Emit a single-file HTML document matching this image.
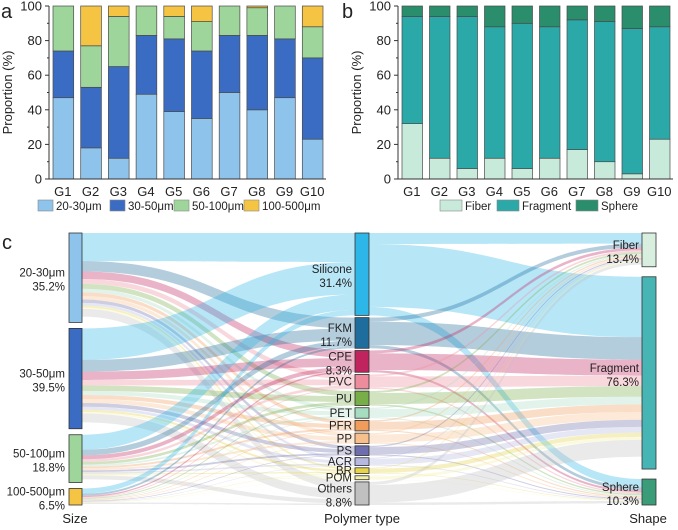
<!DOCTYPE html>
<html><head><meta charset="utf-8"><style>
body{margin:0;background:#fff;font-family:"Liberation Sans",Arial,sans-serif;}
svg{display:block}
text{font-family:"Liberation Sans",Arial,sans-serif;fill:#222}
</style></head><body>
<svg id="s" width="678" height="530" viewBox="0 0 678 530"></svg>
<script>
const groups=["G1","G2","G3","G4","G5","G6","G7","G8","G9","G10"];
const sizeNames=["20-30μm","30-50μm","50-100μm","100-500μm"];
const s2030=[47,18,12,49,39,35,50,40,47,23];
const s3050=[27,35,53,34,42,39,33,43,34,47];
const s50100=[26,24,29,17,13,17,17,16,19,18];
const s100500=[0,23,6,0,6,9,0,1,0,12];
const shapeNames=["Fiber","Fragment","Sphere"];
const fiber=[32,12,6,12,6,12,17,10,3,23];
const fragment=[62,82,88,76,84,76,75,81,84,65];
const sphere=[6,6,6,12,10,12,8,9,13,12];
const yTicks=[0,20,40,60,80,100];
const sizePct=[35.2,39.5,18.8,6.5];
const polyNames=["Silicone","FKM","CPE","PVC","PU","PET","PFR","PP","PS","ACR","BR","POM","Others"];
const polyPct=[31.4,11.7,8.3,5.5,5.5,4.0,4.0,4.0,3.7,3.0,2.2,1.5,8.8];
const polyLabelPct=["31.4%","11.7%","8.3%","","","","","","","","","","8.8%"];
const shapePct=[13.4,76.3,10.3];

const NS="http://www.w3.org/2000/svg";
const svg=document.getElementById('s');
function el(tag,attrs,parent){const e=document.createElementNS(NS,tag);for(const k in attrs)e.setAttribute(k,attrs[k]);(parent||svg).appendChild(e);return e;}
function txt(x,y,t,attrs,parent){const e=el('text',Object.assign({x:x,y:y},attrs||{}),parent);e.textContent=t;return e;}

function barChart(cfg){
  const g=el('g',{});
  
  
  const x0=cfg.x0,x1=cfg.x1,yT=6,yB=179;
  const yS=v=>yB-(v/100)*(yB-yT);
  const step=(x1-x0)/groups.length;
  groups.forEach((gn,i)=>{
    let acc=0;
    cfg.series.forEach((ser,si)=>{
      const v=ser[i]; if(v<=0){return;}
      const r=el('rect',{x:x0+i*step+4,y:yS(acc+v),width:step-7,height:yS(acc)-yS(acc+v),fill:cfg.colors[si],stroke:'#4a4a4a','stroke-width':0.7},g);
      
      
      acc+=v;
    });
    const t=txt(x0+i*step+step/2,196,gn,{'font-size':13,'text-anchor':'middle'},g);
    
    
  });
  el('path',{d:`M${x0} ${yT}V${yB}H${x1}`,stroke:'#333','stroke-width':1,fill:'none'},g);
  yTicks.forEach(v=>{
    el('line',{x1:x0-4,x2:x0,y1:yS(v),y2:yS(v),stroke:'#333'},g);
    if(v<100)el('line',{x1:x0-2,x2:x0,y1:yS(v+10),y2:yS(v+10),stroke:'#333'},g);
    const t=txt(x0-7,yS(v)+4.5,String(v),{'font-size':13,'text-anchor':'end'},g);
    
    
  });
  const yt=txt(0,0,'Proportion (%)',{'font-size':13,'text-anchor':'middle',transform:`translate(${cfg.ytx},${(yT+yB)/2}) rotate(-90)`},g);
  
  
  const pl=txt(cfg.lx,18,cfg.letter,{'font-size':20},g);
  
  
  cfg.legend.forEach((lg,i)=>{
    const r=el('rect',{x:lg[0],y:200,width:cfg.sw,height:11,fill:cfg.colors[i],stroke:'#888','stroke-width':0.6},g);
    
    
    const t=txt(lg[0]+cfg.sw+3,210,lg[1],{'font-size':11.5},g);
    
    
  });
}
barChart({name:'chart-a',letter:'a',lx:1,x0:49,x1:326,ytx:12,sw:15,series:[s2030,s3050,s50100,s100500],keys:['20-30','30-50','50-100','100-500'],
  colors:['#8ec3ec','#3b6cc3','#9ed59b','#f5c443'],legend:[[38,'20-30μm'],[110,'30-50μm'],[174,'50-100μm'],[244,'100-500μm']]});
barChart({name:'chart-b',letter:'b',lx:342,x0:398,x1:673,ytx:361,sw:22,series:[fiber,fragment,sphere],keys:['fiber','fragment','sphere'],
  colors:['#c8eadb','#2aa9a8','#2a8e6d'],legend:[[440,'Fiber'],[497,'Fragment'],[576,'Sphere']]});

// Sankey
const sizeCols=['#8ec3ec','#3b6cc3','#9ed59b','#f5c443'];
const polyCols=['#2cb7e8','#1f6d9c','#c0235e','#ec8c9c','#78ae48','#a6dcc0','#f09c5a','#f6bf8c','#6e6eae','#b6b8e0','#e6d44a','#f2f0a8','#c0c0c0'];
const shapeCols=['#d8efe0','#48b5b5','#3a9c78'];
const sk=el('g',{});


const skTop=233,skBot=505;
function layout(pcts,gap){const tot=pcts.reduce((a,b)=>a+b,0);const avail=skBot-skTop-gap*(pcts.length-1);let y=skTop;return pcts.map(p=>{const h=p/tot*avail;const r=[y,h];y+=h+gap;return r;});}
const L=layout(sizePct,6),M=layout(polyPct,2.2),R=layout(shapePct,10);
const xl=82,xm1=355,xm2=369,xr=642;
const flowG=el('g',{},sk);
function flow(xa,ya,ha,xb,yb,hb,col,name){
  const cx=(xa+xb)/2;
  const p=el('path',{d:`M${xa} ${ya}C${cx} ${ya} ${cx} ${yb} ${xb} ${yb}L${xb} ${yb+hb}C${cx} ${yb+hb} ${cx} ${ya+ha} ${xa} ${ya+ha}Z`,fill:col,'fill-opacity':0.34},flowG);
  
  
}
const mIn=M.map(m=>m[0]);
L.forEach((l,i)=>{let y=l[0];
  M.forEach((m,j)=>{const fr=sizePct[i]/100;const hl=l[1]*polyPct[j]/100;const hm=m[1]*fr;
    flow(xl,y,hl,xm1,mIn[j],hm,polyCols[j],'flow-size-polymer');y+=hl;mIn[j]+=hm;});});
const rIn=R.map(r=>r[0]);
M.forEach((m,j)=>{let y=m[0];
  R.forEach((r,k)=>{const hm=m[1]*shapePct[k]/100;const hr=r[1]*polyPct[j]/100;
    flow(xm2,y,hm,xr,rIn[k],hr,polyCols[j],'flow-polymer-shape');y+=hm;rIn[k]+=hr;});});
function node(x,w,pos,col,name){const r=el('rect',{x:x,y:pos[0],width:w,height:pos[1],fill:col,stroke:'#333','stroke-width':0.8},sk);}
function lbl(x,y,t,anchor){const e=txt(x,y,t,{'font-size':11.5,'text-anchor':anchor},sk);}
L.forEach((l,i)=>{node(69,13,l,sizeCols[i],'size-node-'+i);const c=l[0]+l[1]/2;lbl(65,c-1,sizeNames[i],'end');lbl(65,c+13,sizePct[i]+'%','end');});
M.forEach((m,j)=>{node(xm1,14,m,polyCols[j],'polymer-node-'+polyNames[j].toLowerCase());const c=m[0]+m[1]/2;
  if(polyLabelPct[j]){lbl(352,c-1,polyNames[j],'end');lbl(352,c+13,polyLabelPct[j],'end');}else lbl(352,c+4,polyNames[j],'end');});
R.forEach((r,k)=>{node(xr,14,r,shapeCols[k],'shape-node-'+k);const c=r[0]+r[1]/2;lbl(639,c-1,shapeNames[k],'end');lbl(639,c+13,shapePct[k]+'%','end');});
const cl=txt(2,249,'c',{'font-size':20},sk);
[[75,'Size','size-axis-label'],[362,'Polymer type','polymer-axis-label'],[648,'Shape','shape-axis-label']].forEach(a=>{const t=txt(a[0],523,a[1],{'font-size':13,'text-anchor':'middle'},sk);});
</script>
</body></html>
